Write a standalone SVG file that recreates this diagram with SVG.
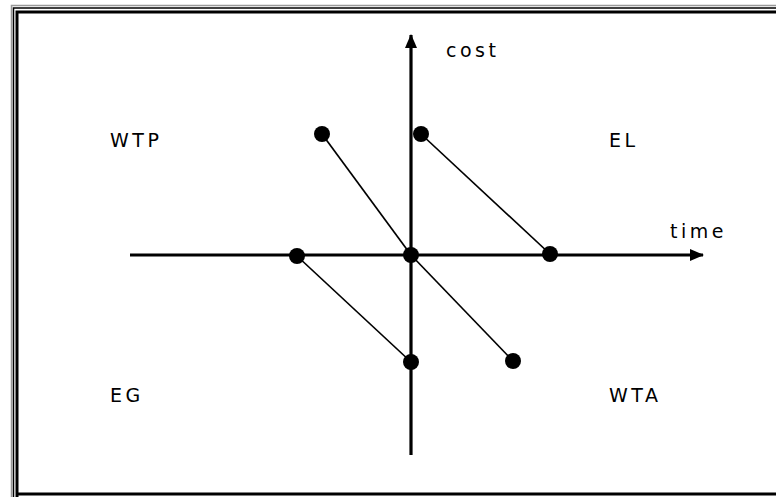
<svg xmlns="http://www.w3.org/2000/svg" width="776" height="497" viewBox="0 0 776 497">
<style>
.lbl{font-family:"DejaVu Sans",sans-serif;font-size:19px;letter-spacing:3.5px;fill:#000}
.axis{stroke:#000;stroke-width:3.2;fill:none}
.seg{stroke:#000;stroke-width:1.7;fill:none}
.dot{fill:#000}
</style>
<defs>
<marker id="ah" viewBox="0 0 14 12" markerWidth="14" markerHeight="12" refX="13" refY="6" orient="auto" markerUnits="userSpaceOnUse">
<path d="M0,0 L14,6 L0,12 Z" fill="#000"/>
</marker>
</defs>
<rect width="776" height="497" fill="#fff"/>
<g id="frame" fill="none">
<path d="M11.5,497 V5.5 H776" stroke="#999" stroke-width="1.5"/>
<path d="M13.5,497 V8 H776" stroke="#000" stroke-width="1.5"/>
<path d="M17,497 V12 H776" stroke="#000" stroke-width="3"/>
<path d="M17,494 H776" stroke="#000" stroke-width="3"/>
</g>
<g id="connectors">
<line class="axis" x1="130" y1="255" x2="703" y2="255" marker-end="url(#ah)"/>
<line class="axis" x1="411" y1="455" x2="411" y2="35" marker-end="url(#ah)"/>
<line class="seg" x1="322" y1="134" x2="411" y2="255"/>
<line class="seg" x1="411" y1="255" x2="513" y2="361"/>
<line class="seg" x1="421" y1="134" x2="550" y2="254"/>
<line class="seg" x1="297" y1="256" x2="411" y2="362"/>
</g>
<g id="p1"><circle class="dot" cx="322" cy="134" r="8"/></g>
<g id="p2"><circle class="dot" cx="421" cy="134" r="8"/></g>
<g id="p3"><circle class="dot" cx="411" cy="255" r="8"/></g>
<g id="p4"><circle class="dot" cx="297" cy="256" r="8"/></g>
<g id="p5"><circle class="dot" cx="550" cy="254" r="8"/></g>
<g id="p6"><circle class="dot" cx="411" cy="362" r="8"/></g>
<g id="p7"><circle class="dot" cx="513" cy="361" r="8"/></g>
<g id="labels">
<text class="lbl" x="446" y="57">cost</text>
<text class="lbl" x="670" y="238">time</text>
<text class="lbl" x="110" y="147">WTP</text>
<text class="lbl" x="609" y="147">EL</text>
<text class="lbl" x="110" y="402">EG</text>
<text class="lbl" x="609" y="402">WTA</text>
</g>
</svg>
